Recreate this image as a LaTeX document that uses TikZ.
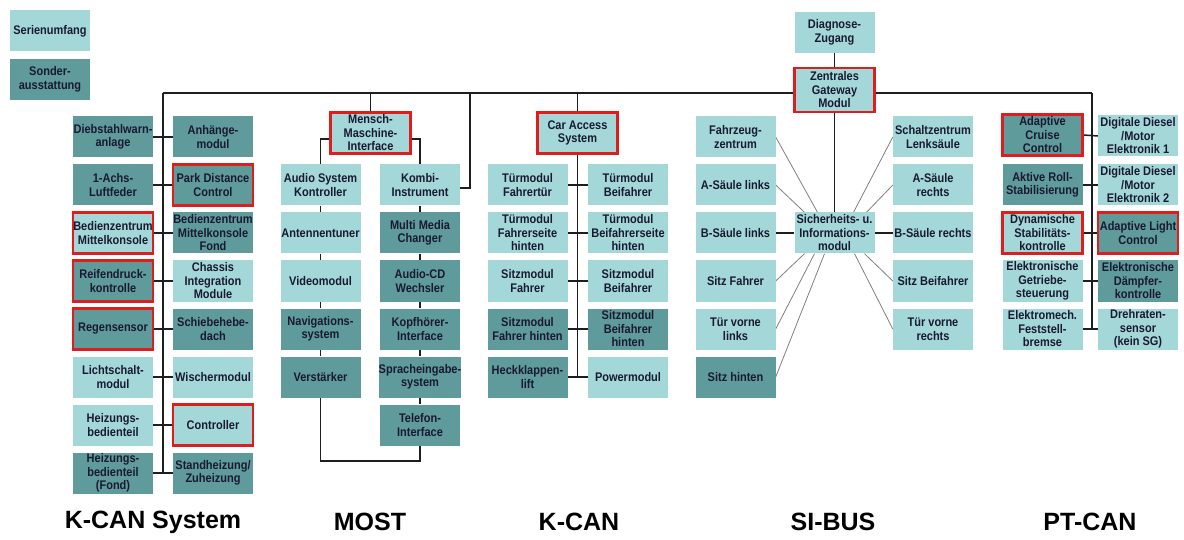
\documentclass[tikz,border=0pt]{standalone}
\usepackage{fontspec}
\setmainfont{Liberation Sans}[FakeStretch=0.88]
\newfontfamily\titlefont{Liberation Sans}
\pgfdeclarelayer{bg}
\pgfsetlayers{bg,main}
\definecolor{lite}{RGB}{164,216,216}
\definecolor{dark}{RGB}{96,155,155}
\definecolor{txt}{RGB}{25,25,50}
\definecolor{selred}{RGB}{222,30,30}
\definecolor{ln}{RGB}{30,30,30}
\tikzset{
  box/.style={minimum width=80pt, minimum height=41pt, inner sep=0pt, align=center,
    font=\fontsize{12.5}{13.5}\selectfont\bfseries, text=txt},
  lt/.style={box, fill=lite},
  dk/.style={box, fill=dark},
  sel/.style={draw=selred, line width=2.2pt},
  bus/.style={draw=ln, line width=1.5pt},
  spoke/.style={draw=black!50, line width=0.8pt},
  bustitle/.style={font=\titlefont\fontsize{25}{28}\selectfont\bfseries, text=black}
}
\begin{document}
\begin{tikzpicture}[x=1pt, y=-1pt]
\useasboundingbox (0,0) rectangle (1184,540);

% legend
\node[lt, font=\fontsize{12.5}{13.5}\selectfont\bfseries] (legS) at (50,31) {Serienumfang};
\node[dk, font=\fontsize{12.5}{13.5}\selectfont\bfseries] (legO) at (50,79.5) {Sonder-\\ausstattung};

% bus corners
\coordinate (busL) at (163,93);
\coordinate (busR) at (1092,93);
\coordinate (kombitap) at (470,93);
\coordinate (mostloop) at (370,461);

% ---- K-CAN System ----
\node[dk] (kL1) at (113,137) {Diebstahlwarn-\\anlage};
\node[dk] (kL2) at (113,185) {1-Achs-\\Luftfeder};
\node[lt, sel] (kL3) at (113,233) {Bedienzentrum\\Mittelkonsole};
\node[dk, sel] (kL4) at (113,281) {Reifendruck-\\kontrolle};
\node[dk, sel] (kL5) at (113,329) {Regensensor};
\node[lt] (kL6) at (113,377) {Lichtschalt-\\modul};
\node[lt] (kL7) at (113,425) {Heizungs-\\bedienteil};
\node[dk] (kL8) at (113,473) {Heizungs-\\bedienteil\\(Fond)};
\node[dk] (kR1) at (213,137) {Anhänge-\\modul};
\node[dk, sel] (kR2) at (213,185) {Park Distance\\Control};
\node[dk] (kR3) at (213,233) {Bedienzentrum\\Mittelkonsole\\Fond};
\node[lt] (kR4) at (213,281) {Chassis\\Integration\\Module};
\node[dk] (kR5) at (213,329) {Schiebehebe-\\dach};
\node[lt] (kR6) at (213,377) {Wischermodul};
\node[lt, sel] (kR7) at (213,425) {Controller};
\node[dk] (kR8) at (213,473) {Standheizung/\\Zuheizung};

% ---- MOST ----
\node[lt, sel] (mmi) at (370.5,133) {Mensch-\\Maschine-\\Interface};
\node[lt] (mL2) at (320.5,185) {Audio System\\Kontroller};
\node[lt] (mL3) at (320.5,233) {Antennentuner};
\node[lt] (mL4) at (320.5,281) {Videomodul};
\node[dk] (mL5) at (320.5,329) {Navigations-\\system};
\node[dk] (mL6) at (320.5,377) {Verstärker};
\node[lt] (mR2) at (420,185) {Kombi-\\Instrument};
\node[dk] (mR3) at (420,233) {Multi Media\\Changer};
\node[dk] (mR4) at (420,281) {Audio-CD\\Wechsler};
\node[dk] (mR5) at (420,329) {Kopfhörer-\\Interface};
\node[dk] (mR6) at (420,377) {Spracheingabe-\\system};
\node[dk] (mR7) at (420,425) {Telefon-\\Interface};

% ---- K-CAN ----
\node[lt, sel] (cas) at (577.5,133) {Car Access\\System};
\node[lt] (cL2) at (527.5,185) {Türmodul\\Fahrertür};
\node[lt] (cL3) at (527.5,233) {Türmodul\\Fahrerseite\\hinten};
\node[lt] (cL4) at (527.5,281) {Sitzmodul\\Fahrer};
\node[dk] (cL5) at (527.5,329) {Sitzmodul\\Fahrer hinten};
\node[dk] (cL6) at (527.5,377) {Heckklappen-\\lift};
\node[lt] (cR2) at (628,185) {Türmodul\\Beifahrer};
\node[lt] (cR3) at (628,233) {Türmodul\\Beifahrerseite\\hinten};
\node[lt] (cR4) at (628,281) {Sitzmodul\\Beifahrer};
\node[dk] (cR5) at (628,329) {Sitzmodul\\Beifahrer\\hinten};
\node[lt] (cR6) at (628,377) {Powermodul};

% ---- SI-BUS ----
\node[lt] (diag) at (834.5,32.5) {Diagnose-\\Zugang};
\node[lt, sel, minimum height=44pt] (gw) at (834.5,90) {Zentrales\\Gateway\\Modul};
\node[lt] (sim) at (834.5,233) {Sicherheits- u.\\Informations-\\modul};
\node[lt] (sL1) at (735.5,137) {Fahrzeug-\\zentrum};
\node[lt] (sL2) at (735.5,185) {A-Säule links};
\node[lt] (sL3) at (735.5,233) {B-Säule links};
\node[lt] (sL4) at (735.5,281) {Sitz Fahrer};
\node[lt] (sL5) at (735.5,329) {Tür vorne\\links};
\node[dk] (sL6) at (735.5,377) {Sitz hinten};
\node[lt] (sR1) at (933,137) {Schaltzentrum\\Lenksäule};
\node[lt] (sR2) at (933,185) {A-Säule\\rechts};
\node[lt] (sR3) at (933,233) {B-Säule rechts};
\node[lt] (sR4) at (933,281) {Sitz Beifahrer};
\node[lt] (sR5) at (933,329) {Tür vorne\\rechts};

% ---- PT-CAN ----
\node[dk, sel] (pL1) at (1042.5,135) {Adaptive\\Cruise\\Control};
\node[dk] (pL2) at (1042.5,185) {Aktive Roll-\\Stabilisierung};
\node[lt, sel] (pL3) at (1042.5,233) {Dynamische\\Stabilitäts-\\kontrolle};
\node[lt] (pL4) at (1042.5,281) {Elektronische\\Getriebe-\\steuerung};
\node[lt] (pL5) at (1042.5,329) {Elektromech.\\Feststell-\\bremse};
\node[lt] (pR1) at (1138,136) {Digitale Diesel\\/Motor\\Elektronik 1};
\node[lt] (pR2) at (1138,185) {Digitale Diesel\\/Motor\\Elektronik 2};
\node[dk, sel] (pR3) at (1138,233) {Adaptive Light\\Control};
\node[dk] (pR4) at (1138,281) {Elektronische\\Dämpfer-\\kontrolle};
\node[lt] (pR5) at (1138,329) {Drehraten-\\sensor\\(kein SG)};

% bus titles
\node[bustitle] (tK) at (153,522) {K-CAN System};
\node[bustitle] (tM) at (370,522) {MOST};
\node[bustitle] (tC) at (579,522) {K-CAN};
\node[bustitle] (tS) at (833,522) {SI-BUS};
\node[bustitle] (tP) at (1090,522) {PT-CAN};

\begin{pgfonlayer}{bg}
  \fill[white] (0,0) rectangle (1184,540);
  % main bus
  \draw[bus] (busL) -- (busR);
  % K-CAN System
  \draw[bus] (busL) -- (busL |- kL8.east);
  \foreach \i in {1,...,8} { \draw[bus] (kL\i.east) -- (kR\i.west); }
  % MOST ring
  \draw[bus] (busL -| mmi.north) -- (mmi.north);
  \draw[bus] ([yshift=-6pt]mmi.west) -| (mL2.north);
  \draw[bus] ([yshift=-6pt]mmi.east) -| (mR2.north);
  \draw[bus] (mL2) -- (mL3) -- (mL4) -- (mL5) -- (mL6);
  \draw[bus] (mR2) -- (mR3) -- (mR4) -- (mR5) -- (mR6) -- (mR7);
  \draw[bus] (mL6.south) |- (mostloop) -| (mR7.south);
  \draw[bus] (kombitap) |- ([yshift=-3pt]mR2.east);
  % K-CAN
  \draw[bus] (busL -| cas.north) -- (cas.north);
  \draw[bus] (cas.south) -- (cas.south |- cL6.east);
  \foreach \i in {2,...,6} { \draw[bus] (cL\i.east) -- (cR\i.west); }
  % SI-BUS
  \draw[bus] (diag.south) -- (gw.north);
  \draw[bus] (gw.south) -- (sim.north);
  \draw[bus] (sL3.east) -- (sim.west);
  \draw[bus] (sim.east) -- (sR3.west);
  \draw[spoke] (sL1.east) -- ([xshift=-17pt]sim.north);
  \draw[spoke] (sL2.east) -- ([xshift=-30pt]sim.north);
  \draw[spoke] (sL4.east) -- ([xshift=-30pt]sim.south);
  \draw[spoke] (sL5.east) -- ([xshift=-20pt]sim.south);
  \draw[spoke] (sL6.east) -- ([xshift=-10pt]sim.south);
  \draw[spoke] (sR1.west) -- ([xshift=19pt]sim.north);
  \draw[spoke] (sR2.west) -- ([xshift=32pt]sim.north);
  \draw[spoke] (sR4.west) -- ([xshift=30pt]sim.south);
  \draw[spoke] (sR5.west) -- ([xshift=20pt]sim.south);
  % PT-CAN
  \draw[bus] (busR) -- (busR |- pL5.east);
  \foreach \i in {1,...,5} { \draw[bus] (pL\i.east) -- (pR\i.west); }
\end{pgfonlayer}
\end{tikzpicture}
\end{document}
